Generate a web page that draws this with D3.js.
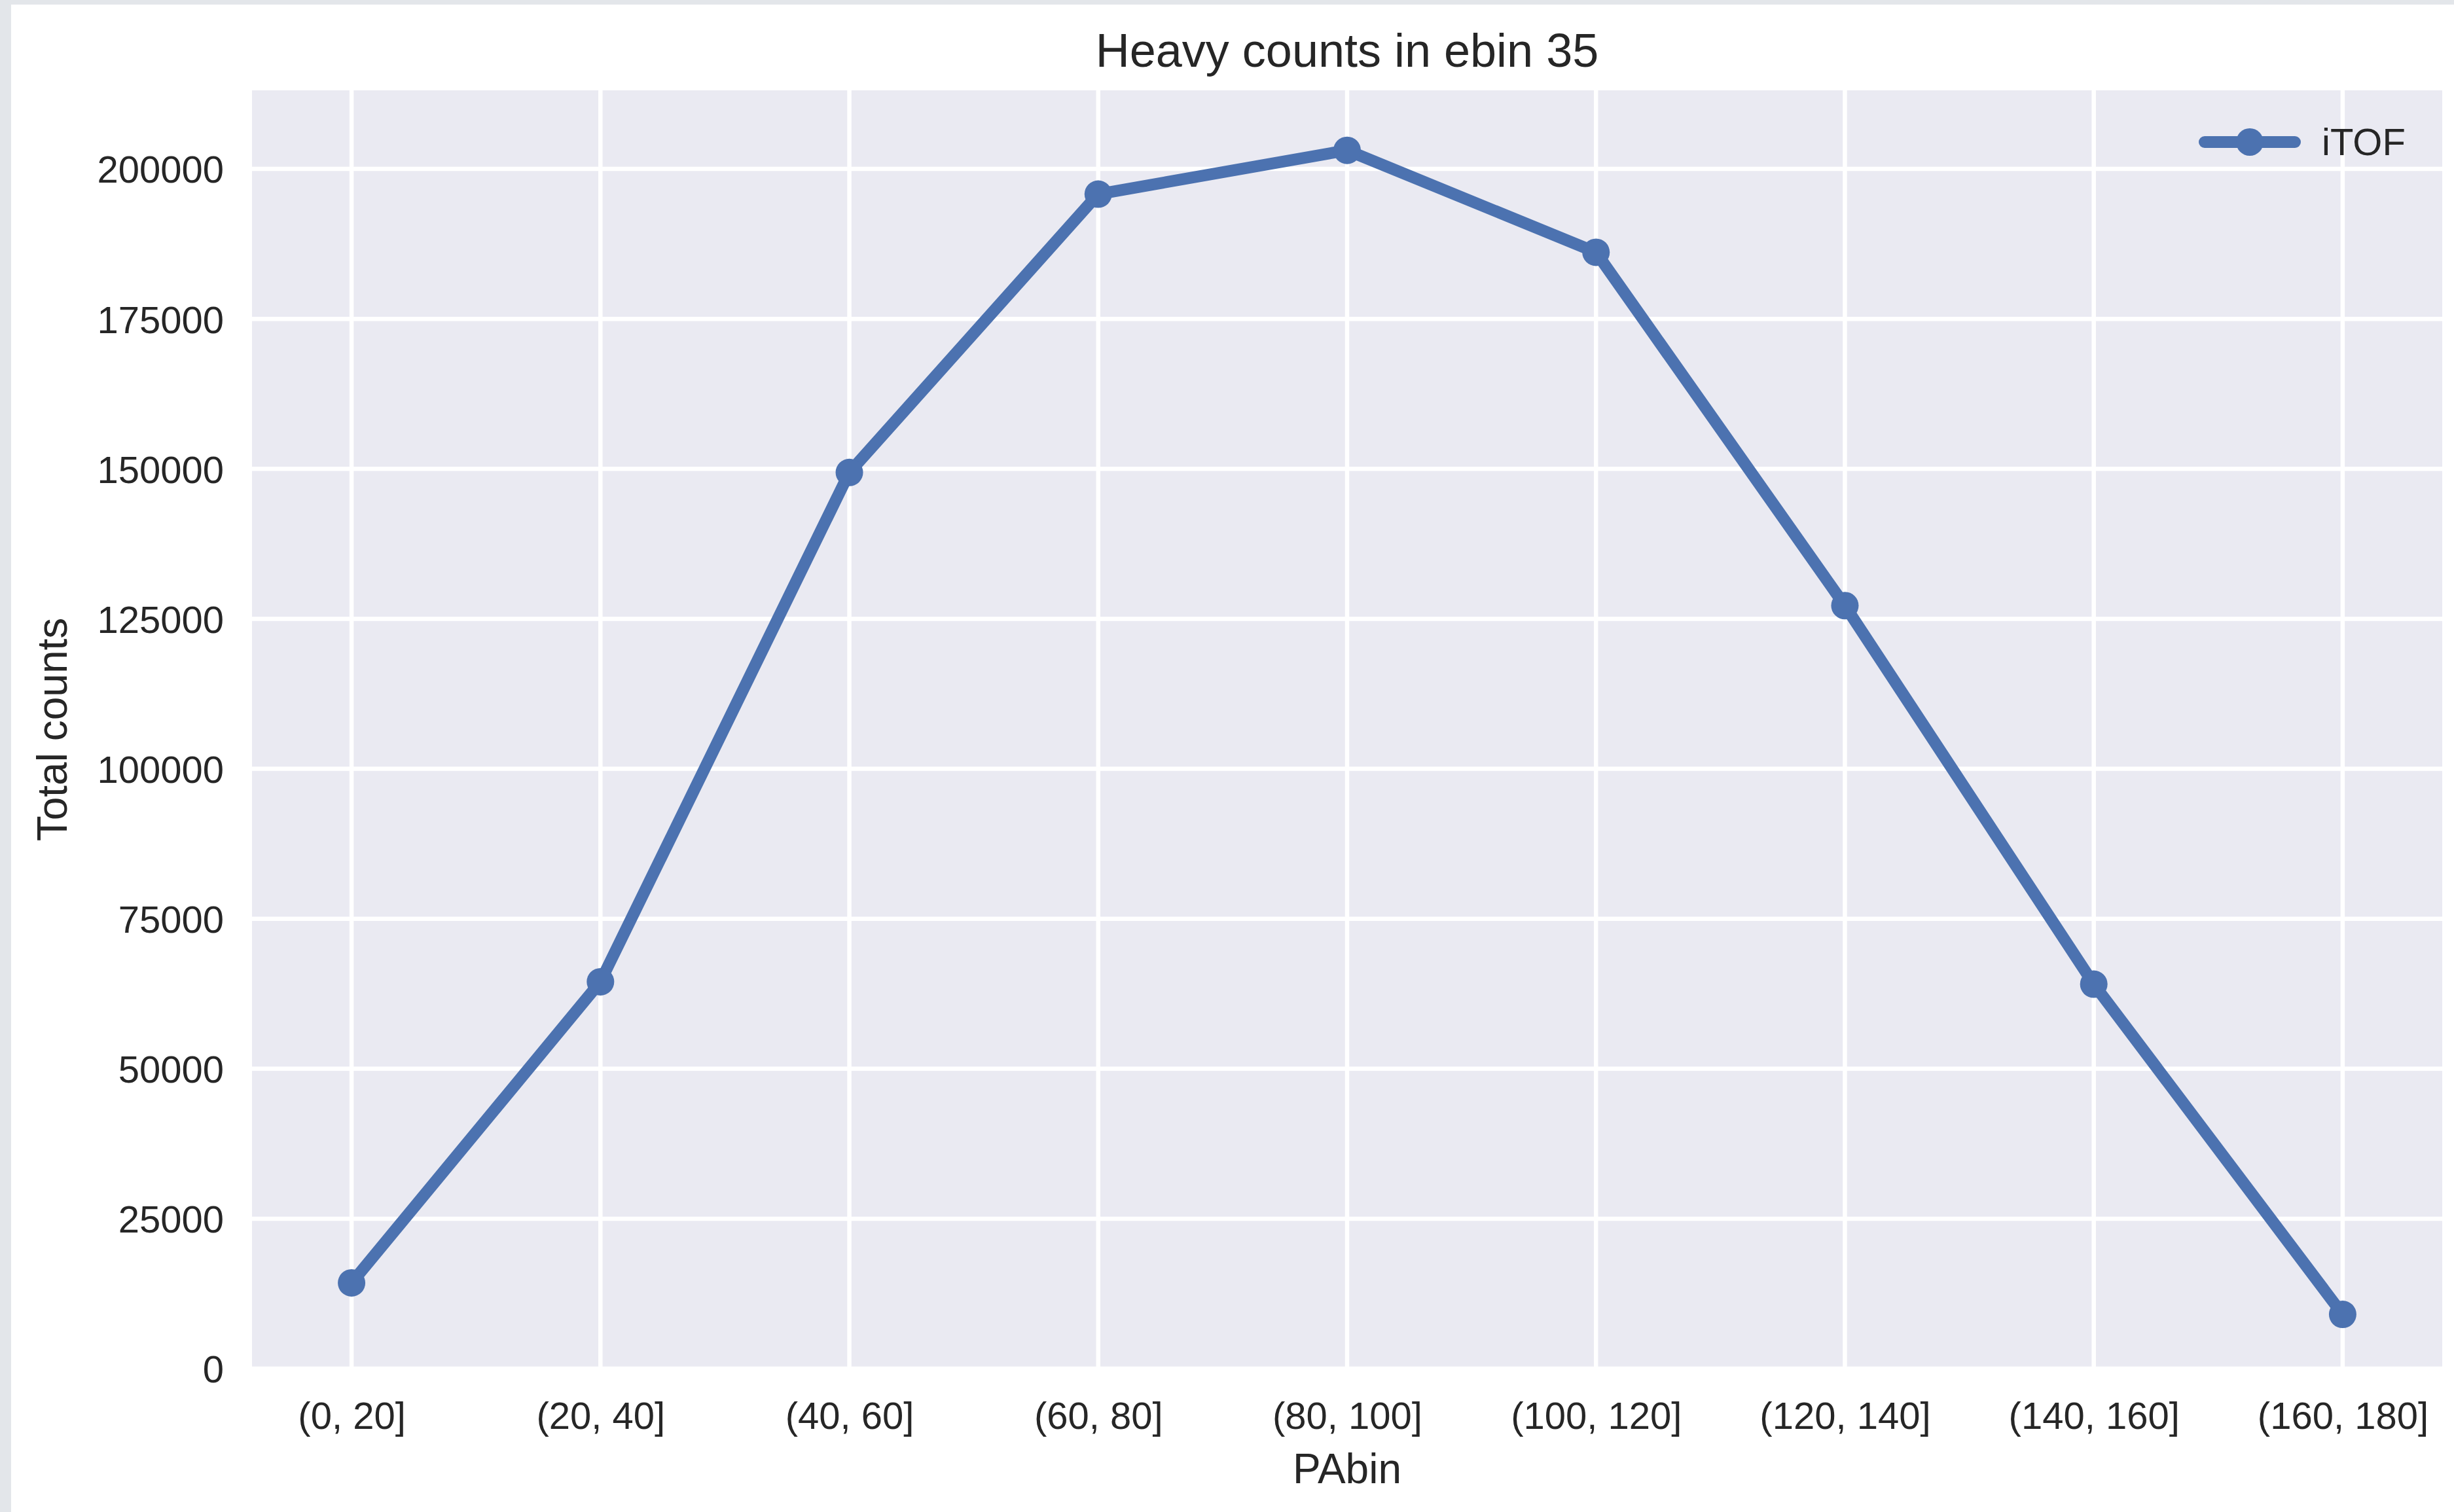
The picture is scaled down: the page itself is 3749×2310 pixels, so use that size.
<!DOCTYPE html>
<html>
<head>
<meta charset="utf-8">
<script src="https://cdn.jsdelivr.net/npm/d3@7"></script>
<style>
  html, body { margin: 0; padding: 0; background: #ffffff; }
  svg { display: block; }
  text { font-family: "Liberation Sans", Arial, sans-serif; fill: #262626; }
</style>
</head>
<body>
<script>
// ---- data ----
const categories = ["(0, 20]", "(20, 40]", "(40, 60]", "(60, 80]", "(80, 100]",
                    "(100, 120]", "(120, 140]", "(140, 160]", "(160, 180]"];
const itofValues = [14300, 64500, 149400, 195800, 203100, 186100, 127200, 64100, 9050];
const yTickValues = [0, 25000, 50000, 75000, 100000, 125000, 150000, 175000, 200000];
const seriesName = "iTOF";
const titleText = "Heavy counts in ebin 35";
const xLabelText = "PAbin";
const yLabelText = "Total counts";

// ---- layout ----
const W = 3749, H = 2310;
const plot = { left: 385, right: 3731, top: 138, bottom: 2091 };
const blue = "#4C72B0";

const svg = d3.select("body").append("svg").attr("width", W).attr("height", H);

// screenshot frame
svg.append("rect").attr("x", 0).attr("y", 0).attr("width", W).attr("height", H).attr("fill", "#e3e6ea");
svg.append("rect").attr("x", 17).attr("y", 7).attr("width", W - 17).attr("height", H - 7).attr("fill", "#ffffff");

// scales
const x = d3.scalePoint().domain(categories).range([plot.left, plot.right]).padding(0.4);
const y = d3.scaleLinear().domain([0, 213100]).range([plot.bottom, plot.top]);

// plot background
svg.append("rect")
  .attr("x", plot.left).attr("y", plot.top)
  .attr("width", plot.right - plot.left).attr("height", plot.bottom - plot.top)
  .attr("fill", "#EAEAF2");

const clip = svg.append("clipPath").attr("id", "plotclip").append("rect")
  .attr("x", plot.left).attr("y", plot.top)
  .attr("width", plot.right - plot.left).attr("height", plot.bottom - plot.top);

const grid = svg.append("g").attr("clip-path", "url(#plotclip)");
grid.selectAll("line.h").data(yTickValues).enter().append("line")
  .attr("x1", plot.left).attr("x2", plot.right)
  .attr("y1", d => y(d)).attr("y2", d => y(d))
  .attr("stroke", "#ffffff").attr("stroke-width", 6.5);
grid.selectAll("line.v").data(categories).enter().append("line")
  .attr("y1", plot.top).attr("y2", plot.bottom)
  .attr("x1", d => x(d)).attr("x2", d => x(d))
  .attr("stroke", "#ffffff").attr("stroke-width", 6.5);

// axes (tick text only, no lines)
const yAxis = svg.append("g").attr("transform", `translate(${plot.left},0)`)
  .call(d3.axisLeft(y).tickValues(yTickValues).tickFormat(d3.format("d")).tickSize(0).tickPadding(43));
yAxis.select(".domain").remove();
yAxis.selectAll("text")
  .style("font-family", "'Liberation Sans', Arial, sans-serif")
  .style("font-size", "58px").attr("fill", "#262626")
  .attr("dy", "0.36em");

const xAxis = svg.append("g").attr("transform", `translate(0,${plot.bottom})`)
  .call(d3.axisBottom(x).tickSize(0).tickPadding(0));
xAxis.select(".domain").remove();
xAxis.selectAll("text")
  .style("font-family", "'Liberation Sans', Arial, sans-serif")
  .style("font-size", "58px").attr("fill", "#262626")
  .attr("dy", null).attr("y", 92);

// line + markers
const line = d3.line().x((d, i) => x(categories[i])).y(d => y(d));
svg.append("path").datum(itofValues)
  .attr("d", line).attr("fill", "none")
  .attr("stroke", blue).attr("stroke-width", 18)
  .attr("stroke-linejoin", "round").attr("stroke-linecap", "round");
svg.selectAll("circle.pt").data(itofValues).enter().append("circle")
  .attr("cx", (d, i) => x(categories[i])).attr("cy", d => y(d))
  .attr("r", 21).attr("fill", blue);

// title and labels
svg.append("text").attr("x", (plot.left + plot.right) / 2).attr("y", 102)
  .attr("text-anchor", "middle").style("font-size", "72px").text(titleText);
svg.append("text").attr("x", (plot.left + plot.right) / 2).attr("y", 2266)
  .attr("text-anchor", "middle").style("font-size", "64px").text(xLabelText);
svg.append("text")
  .attr("transform", `translate(102,${(plot.top + plot.bottom) / 2}) rotate(-90)`)
  .attr("text-anchor", "middle").style("font-size", "64px").text(yLabelText);

// legend
const lg = svg.append("g");
lg.append("line").attr("x1", 3368).attr("x2", 3506).attr("y1", 217).attr("y2", 217)
  .attr("stroke", blue).attr("stroke-width", 18).attr("stroke-linecap", "round");
lg.append("circle").attr("cx", 3437).attr("cy", 217).attr("r", 21).attr("fill", blue);
lg.append("text").attr("x", 3547).attr("y", 237).style("font-size", "58px").text(seriesName);
</script>
</body>
</html>
